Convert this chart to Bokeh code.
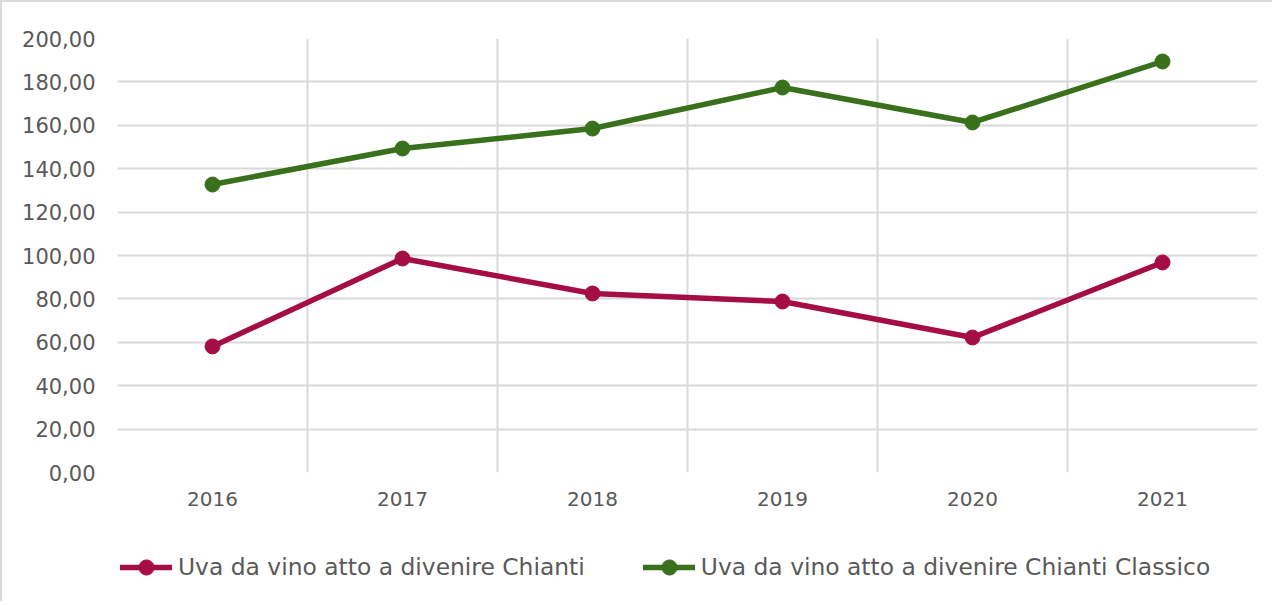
from bokeh.plotting import figure
from bokeh.layouts import column
from bokeh.models import Range1d, FixedTicker, Legend, LegendItem
from bokeh.embed import file_html
from bokeh.resources import INLINE

years = ["2016", "2017", "2018", "2019", "2020", "2021"]
chianti = [58.1, 98.6, 82.5, 78.8, 62.2, 96.8]
classico = [132.7, 149.3, 158.5, 177.4, 161.3, 189.4]
y_ticks = [0, 20, 40, 60, 80, 100, 120, 140, 160, 180, 200]
series_names = ["Uva da vino atto a divenire Chianti",
                "Uva da vino atto a divenire Chianti Classico"]
colors = ["#A50D45", "#38701C"]

FONT = "DejaVu Sans"
TXT = "#595959"
GRID = "#D9D9D9"

xs = [i + 0.5 for i in range(len(years))]

p = figure(width=1272, height=520, output_backend="svg", toolbar_location=None,
           x_range=Range1d(0, len(years)), y_range=Range1d(0, 200),
           min_border_left=115, min_border_right=17, min_border_top=36, min_border_bottom=50)
p.styles = {"border-left": "2px solid #D9D9D9", "border-top": "2px solid #D9D9D9"}
p.outline_line_color = None
p.background_fill_color = "white"
p.border_fill_color = "white"

p.xaxis.ticker = FixedTicker(ticks=xs)
p.xaxis.major_label_overrides = {x: y for x, y in zip(xs, years)}
p.yaxis.ticker = FixedTicker(ticks=y_ticks)
p.yaxis.major_label_overrides = {t: f"{t},00" for t in y_ticks}
for ax in (p.xaxis, p.yaxis):
    ax.axis_line_color = None
    ax.major_tick_line_color = None
    ax.minor_tick_line_color = None
    ax.major_tick_out = 0
    ax.major_tick_in = 0
    ax.major_label_text_font = FONT
    ax.major_label_text_color = TXT
p.xaxis.major_label_text_font_size = "20px"
p.yaxis.major_label_text_font_size = "21px"
p.xaxis.major_label_standoff = 19
p.yaxis.major_label_standoff = 22

p.xgrid.ticker = FixedTicker(ticks=list(range(len(years) + 1)))
p.ygrid.ticker = FixedTicker(ticks=y_ticks)
for g in (p.xgrid, p.ygrid):
    g.grid_line_color = GRID
    g.grid_line_width = 2

for vals, c in zip([chianti, classico], colors):
    p.line(xs, vals, line_color=c, line_width=5.5, line_cap="round", line_join="round")
    p.scatter(xs, vals, size=15, fill_color=c, line_color=c)

# legend strip below the chart (its frame is aligned with the chart's frame)
p2 = figure(width=1272, height=81, output_backend="svg", toolbar_location=None,
            x_range=Range1d(0, 1), y_range=Range1d(0, 1),
            min_border_left=0, min_border_right=0, min_border_top=0, min_border_bottom=0)
p2.styles = {"border-left": "2px solid #D9D9D9"}
p2.axis.visible = False
p2.grid.visible = False
p2.outline_line_color = None
p2.background_fill_color = "white"
p2.border_fill_color = "white"

items = []
for name, c in zip(series_names, colors):
    # renderers kept outside the visible range: they only provide legend glyphs
    l = p2.line(x=[5, 6], y=[5, 6], line_color=c, line_width=5.5, line_cap="round")
    s = p2.scatter(x=[5], y=[5], size=15, fill_color=c, line_color=c)
    items.append(LegendItem(label=name, renderers=[l, s]))

legend = Legend(items=items, orientation="horizontal", location=(3, 15),
                padding=0, margin=0, spacing=58, glyph_width=52, glyph_height=38,
                label_standoff=6, label_text_font=FONT, label_text_font_size="23.4px",
                label_text_color=TXT, border_line_color=None, background_fill_alpha=0)
p2.add_layout(legend)

layout = column(p, p2, spacing=0)
open("out.html", "w").write(file_html(layout, INLINE))
